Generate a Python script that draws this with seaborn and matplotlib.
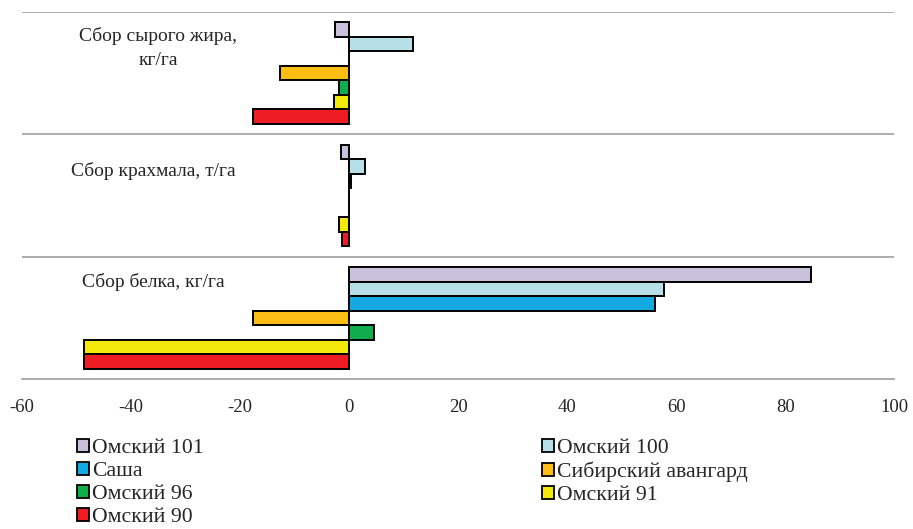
import matplotlib
matplotlib.use('Agg')
import matplotlib.pyplot as plt
from matplotlib.patches import Patch
import pandas as pd
import seaborn as sns

# --- data ---
categories = ['Сбор сырого жира,\nкг/га', 'Сбор крахмала, т/га', 'Сбор белка, кг/га']
varieties = ['Омский 101', 'Омский 100', 'Саша', 'Сибирский авангард',
             'Омский 96', 'Омский 91', 'Омский 90']
fat_values = [-2.6, 11.8, 0.0, -12.7, -1.8, -2.7, -17.7]
starch_values = [-1.4, 2.9, 0.3, 0.0, 0.0, -1.8, -1.3]
protein_values = [84.8, 57.8, 56.2, -17.6, 4.5, -48.7, -48.7]
colors = ['#C9C0DB', '#B7DFE8', '#14A9E0', '#FCBE14', '#10AD4E', '#F3EA0C', '#EE1D24']
x_ticks = [-60, -40, -20, 0, 20, 40, 60, 80, 100]

rows = []
for cat, vals in zip(categories, [fat_values, starch_values, protein_values]):
    for var, v in zip(varieties, vals):
        rows.append({'category': cat, 'variety': var, 'value': v})
df = pd.DataFrame(rows)

sns.set_style('white')
plt.rcParams['font.family'] = ['Liberation Serif', 'DejaVu Serif']

fig = plt.figure(figsize=(9.13, 5.29), dpi=100)
ax = fig.add_axes([0.0241, 0.2836, 0.9554, 0.6938])

palette = dict(zip(varieties, colors))
sns.barplot(data=df, x='value', y='category', hue='variety', order=categories,
            hue_order=varieties, palette=palette, orient='h', width=0.83,
            errorbar=None, edgecolor='black', linewidth=1.4, saturation=1,
            legend=False, ax=ax)

ax.set_xlim(-60, 100)
ax.set_ylim(2.5, -0.5)
ax.set_xticks(x_ticks)
ax.set_xticklabels([str(t) for t in x_ticks], fontsize=13.5)
ax.set_yticks([])
ax.set_xlabel('')
ax.set_ylabel('')

# category boundary gridlines
for yb in [-0.5, 0.5, 1.5]:
    ax.axhline(yb, color='#A6A6A6', lw=1.3, zorder=0)

for side in ['top', 'left', 'right']:
    ax.spines[side].set_visible(False)
ax.spines['bottom'].set_color('#A6A6A6')
ax.spines['bottom'].set_linewidth(1.3)
ax.tick_params(axis='x', direction='out', length=5, width=1.2, color='#A6A6A6', pad=9.5)

# category labels inside the plot area
label_pos = [(-35.0, -0.205), (-36.0, 0.8), (-36.0, 1.71)]
for cat, (lx, ly) in zip(categories, label_pos):
    ax.text(lx, ly, cat, ha='center', va='center', fontsize=14, linespacing=1.55)

handles = [Patch(facecolor=c, edgecolor='black', linewidth=1.3, label=v)
           for v, c in zip(varieties, colors)]
order = [0, 2, 4, 6, 1, 3, 5]
fig.legend([handles[i] for i in order], [varieties[i] for i in order],
           loc='upper left', bbox_to_anchor=(0.0843, 0.171), ncol=2,
           frameon=False, fontsize=15.7, handlelength=0.55, handleheight=0.55,
           handletextpad=0.15, labelspacing=0.18, columnspacing=15.5,
           borderpad=0, borderaxespad=0)

plt.savefig('out.png', dpi=100)
